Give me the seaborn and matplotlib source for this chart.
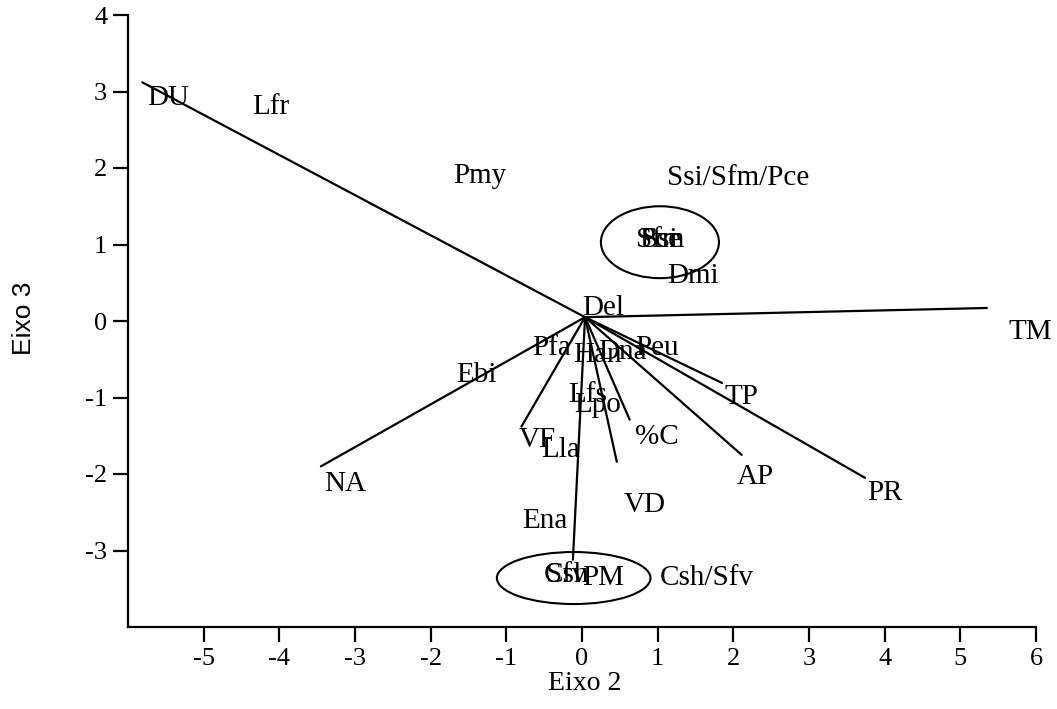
import pandas as pd
import seaborn as sb
from matplotlib import pyplot as plt
from matplotlib.patches import Ellipse

# biplot vectors (Eixo 2 / Eixo 3), all start from the common origin
ORIGIN = (0.04, 0.05)
vec_names = ["DU", "TM", "NA", "VF", "PM", "VD", "%C", "AP", "TP", "PR"]
vec_x = [-5.81, 5.35, -3.45, -0.80, -0.12, 0.46, 0.63, 2.11, 1.85, 3.74]
vec_y = [3.12, 0.17, -1.90, -1.38, -3.12, -1.84, -1.29, -1.75, -0.81, -2.05]

# text labels (species and variables)
lab_text = ["DU", "Lfr", "Pmy", "Ssi/Sfm/Pce", "Ssi", "Sfm", "Pce", "Dmi", "Del",
            "TM", "Pfa", "Han", "Dna", "Peu", "Ebi", "Lfs", "Lpo", "TP", "VF",
            "%C", "Lla", "AP", "NA", "PR", "VD", "Ena", "Csh", "Sfv", "PM", "Csh/Sfv"]
lab_x = [-5.47, -4.12, -1.35, 2.06, 1.03, 1.03, 1.03, 1.47, 0.28,
         5.92, -0.40, 0.20, 0.53, 0.99, -1.39, 0.08, 0.20, 2.11, -0.59,
         0.99, -0.28, 2.29, -3.13, 4.00, 0.83, -0.49, -0.21, -0.21, 0.28, 1.65]
lab_y = [2.92, 2.80, 1.90, 1.87, 1.06, 1.06, 1.06, 0.59, 0.17,
         -0.14, -0.35, -0.44, -0.41, -0.35, -0.71, -0.97, -1.10, -0.99, -1.56,
         -1.52, -1.69, -2.04, -2.13, -2.25, -2.41, -2.61, -3.32, -3.32, -3.36, -3.36]

# groups circled on the plot
circ_x = [1.03, -0.11]
circ_y = [1.03, -3.36]
circ_w = [1.56, 2.03]
circ_h = [0.94, 0.68]

X_TICKS = list(range(-5, 7))
Y_TICKS = list(range(-3, 5))


def createBiplot(graph_filename):
    sb.set_style("ticks")
    plt.rcParams['font.family'] = ['Liberation Serif', 'DejaVu Serif']

    fig = plt.figure(figsize=(10.57, 7.09), dpi=100)
    ax = fig.add_axes([128 / 1057, 1 - 627 / 709, 908 / 1057, 612 / 709])

    # one row for the origin and one for the tip of each vector
    rows = []
    for n, x, y in zip(vec_names, vec_x, vec_y):
        rows.append({"var": n, "x": ORIGIN[0], "y": ORIGIN[1]})
        rows.append({"var": n, "x": x, "y": y})
    df = pd.DataFrame(rows)
    sb.lineplot(data=df, x="x", y="y", units="var", estimator=None,
                color="black", linewidth=1.6, sort=False, ax=ax, legend=False)

    for t, x, y in zip(lab_text, lab_x, lab_y):
        ax.text(x, y, t, ha="center", va="center", fontsize=21, color="black")

    for x, y, w, h in zip(circ_x, circ_y, circ_w, circ_h):
        ax.add_patch(Ellipse((x, y), w, h, fill=False, edgecolor="black", linewidth=1.5))

    ax.set_xlim(-6, 6)
    ax.set_ylim(-4, 4)
    ax.set_xticks(X_TICKS)
    ax.set_yticks(Y_TICKS)
    ax.set_xticklabels([str(v) for v in X_TICKS])
    ax.set_yticklabels([str(v) for v in Y_TICKS])
    ax.tick_params(axis="both", labelsize=19, length=11, width=1.6, color="black",
                   labelcolor="black", pad=4)
    sb.despine(ax=ax)
    for s in ["left", "bottom"]:
        ax.spines[s].set_linewidth(1.6)
        ax.spines[s].set_color("black")

    ax.set_xlabel("Eixo 2", fontsize=20, color="black")
    ax.xaxis.set_label_coords(0.503, -(683 - 627) / 612)
    ax.xaxis.label.set_va("center")
    ax.set_ylabel("Eixo 3", fontsize=19, color="black", family=["Liberation Sans", "DejaVu Sans"])
    ax.yaxis.set_label_coords(-(128 - 24) / 908, 0.505)
    ax.yaxis.label.set_va("center")

    fig.savefig(graph_filename, dpi=100)


createBiplot("out.png")
